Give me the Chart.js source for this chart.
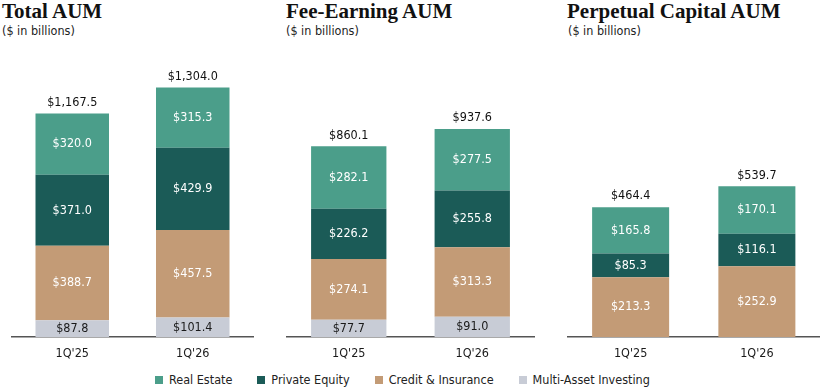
<!DOCTYPE html>
<html>
<head>
<meta charset="utf-8">
<script src="https://cdn.jsdelivr.net/npm/chart.js@4.4.1/dist/chart.umd.min.js"></script>
<style>
  body { margin: 0; width: 820px; height: 388px; background: #fff; position: relative; overflow: hidden; }
  .title { position: absolute; top: 1px; font-family: 'Liberation Serif', serif; font-weight: bold; font-size: 21px; color: #111; line-height: 20px; white-space: nowrap; }
  .sub { position: absolute; top: 23px; font-family: 'DejaVu Sans Condensed', 'DejaVu Sans', sans-serif; font-size: 12.5px; color: #222; white-space: nowrap; }
  canvas { position: absolute; }
  #legend { position: absolute; left: 155px; top: 372px; display: flex; font-family: 'DejaVu Sans Condensed', 'DejaVu Sans', sans-serif; font-size: 12.5px; color: #222; }
  #legend span.item { display: flex; align-items: center; margin-right: 25px; }
  #legend span.box { width: 8px; height: 8px; margin-right: 6px; display: inline-block; }
</style>
</head>
<body>
<div class="title" style="left:2px">Total AUM</div>
<div class="sub" style="left:2px">($ in billions)</div>
<div class="title" style="left:286px">Fee-Earning AUM</div>
<div class="sub" style="left:286px">($ in billions)</div>
<div class="title" style="left:567px">Perpetual Capital AUM</div>
<div class="sub" style="left:568px">($ in billions)</div>

<canvas id="c1" width="270" height="300" style="left:0;top:70px"></canvas>
<canvas id="c2" width="270" height="300" style="left:275px;top:70px"></canvas>
<canvas id="c3" width="265" height="300" style="left:555px;top:70px"></canvas>
<div id="legend"></div>

<script>
const quarters = ["1Q'25", "1Q'26"];

// Total AUM
const totalRealEstate = [320.0, 315.3];
const totalPrivateEquity = [371.0, 429.9];
const totalCredit = [388.7, 457.5];
const totalMultiAsset = [87.8, 101.4];
const totalSums = [1167.5, 1304.0];

// Fee-Earning AUM
const feeRealEstate = [282.1, 277.5];
const feePrivateEquity = [226.2, 255.8];
const feeCredit = [274.1, 313.3];
const feeMultiAsset = [77.7, 91.0];
const feeSums = [860.1, 937.6];

// Perpetual Capital AUM
const permRealEstate = [165.8, 170.1];
const permPrivateEquity = [85.3, 116.1];
const permCredit = [213.3, 252.9];
const permSums = [464.4, 539.7];

const seriesNames = ['Real Estate', 'Private Equity', 'Credit & Insurance', 'Multi-Asset Investing'];
const seriesColors = ['#4b9e8a', '#1b5b57', '#c39b76', '#c8ccd6'];
const labelColors = ['#ffffff', '#ffffff', '#ffffff', '#1a1a1a'];

const FONT = "'DejaVu Sans Condensed', 'DejaVu Sans', sans-serif";

function money(v) {
    return '$' + v.toLocaleString('en-US', { minimumFractionDigits: 1, maximumFractionDigits: 1 });
}

// in-bar values and totals on top
const barLabels = {
    id: 'barLabels',
    afterDatasetsDraw(chart, args, opts) {
        const ctx = chart.ctx;
        ctx.save();
        ctx.font = '12.5px ' + FONT;
        ctx.textAlign = 'center';
        ctx.textBaseline = 'middle';
        const tops = [];
        chart.data.datasets.forEach((ds, i) => {
            const meta = chart.getDatasetMeta(i);
            meta.data.forEach((bar, j) => {
                const v = ds.data[j];
                if (v == null) return;
                ctx.fillStyle = ds.labelColor;
                ctx.fillText(money(v), bar.x, (bar.y + bar.base) / 2);
                if (tops[j] == null || bar.y < tops[j].y) tops[j] = { x: bar.x, y: bar.y };
            });
        });
        ctx.fillStyle = '#111';
        opts.sums.forEach((s, j) => {
            ctx.fillText(money(s), tops[j].x, tops[j].y - 11);
        });
        ctx.restore();
    }
};

function makeChart(id, stacks, sums, yMax, padL, padR) {
    // stacks given top to bottom, chart stacks bottom up
    const datasets = [];
    for (let i = stacks.length - 1; i >= 0; i--) {
        datasets.push({
            label: seriesNames[i],
            data: stacks[i],
            backgroundColor: seriesColors[i],
            labelColor: labelColors[i],
            borderWidth: 0,
            barPercentage: 0.61,
            categoryPercentage: 1
        });
    }
    return new Chart(document.getElementById(id), {
        type: 'bar',
        data: { labels: quarters, datasets },
        options: {
            responsive: false,
            animation: false,
            layout: { padding: { left: padL, right: padR, top: 0, bottom: 0 } },
            plugins: {
                legend: { display: false },
                tooltip: { enabled: false },
                barLabels: { sums }
            },
            scales: {
                x: {
                    stacked: true,
                    grid: { display: false, drawTicks: false, tickLength: 0 },
                    border: { display: true, color: '#555', width: 1.5 },
                    ticks: { color: '#1a1a1a', font: { family: FONT, size: 12.5 }, padding: 9 }
                },
                y: { stacked: true, display: false, min: 0, max: yMax }
            }
        },
        plugins: [barLabels]
    });
}

makeChart('c1', [totalRealEstate, totalPrivateEquity, totalCredit, totalMultiAsset], totalSums, 1395, 12, 17);
makeChart('c2', [feeRealEstate, feePrivateEquity, feeCredit, feeMultiAsset], feeSums, 1204, 12, 11);
makeChart('c3', [permRealEstate, permPrivateEquity, permCredit], permSums, 955, 12.5, 0);

const legend = document.getElementById('legend');
seriesNames.forEach((name, i) => {
    const item = document.createElement('span');
    item.className = 'item';
    item.innerHTML = `<span class="box" style="background:${seriesColors[i]}"></span>${name}`;
    legend.appendChild(item);
});
</script>
</body>
</html>
